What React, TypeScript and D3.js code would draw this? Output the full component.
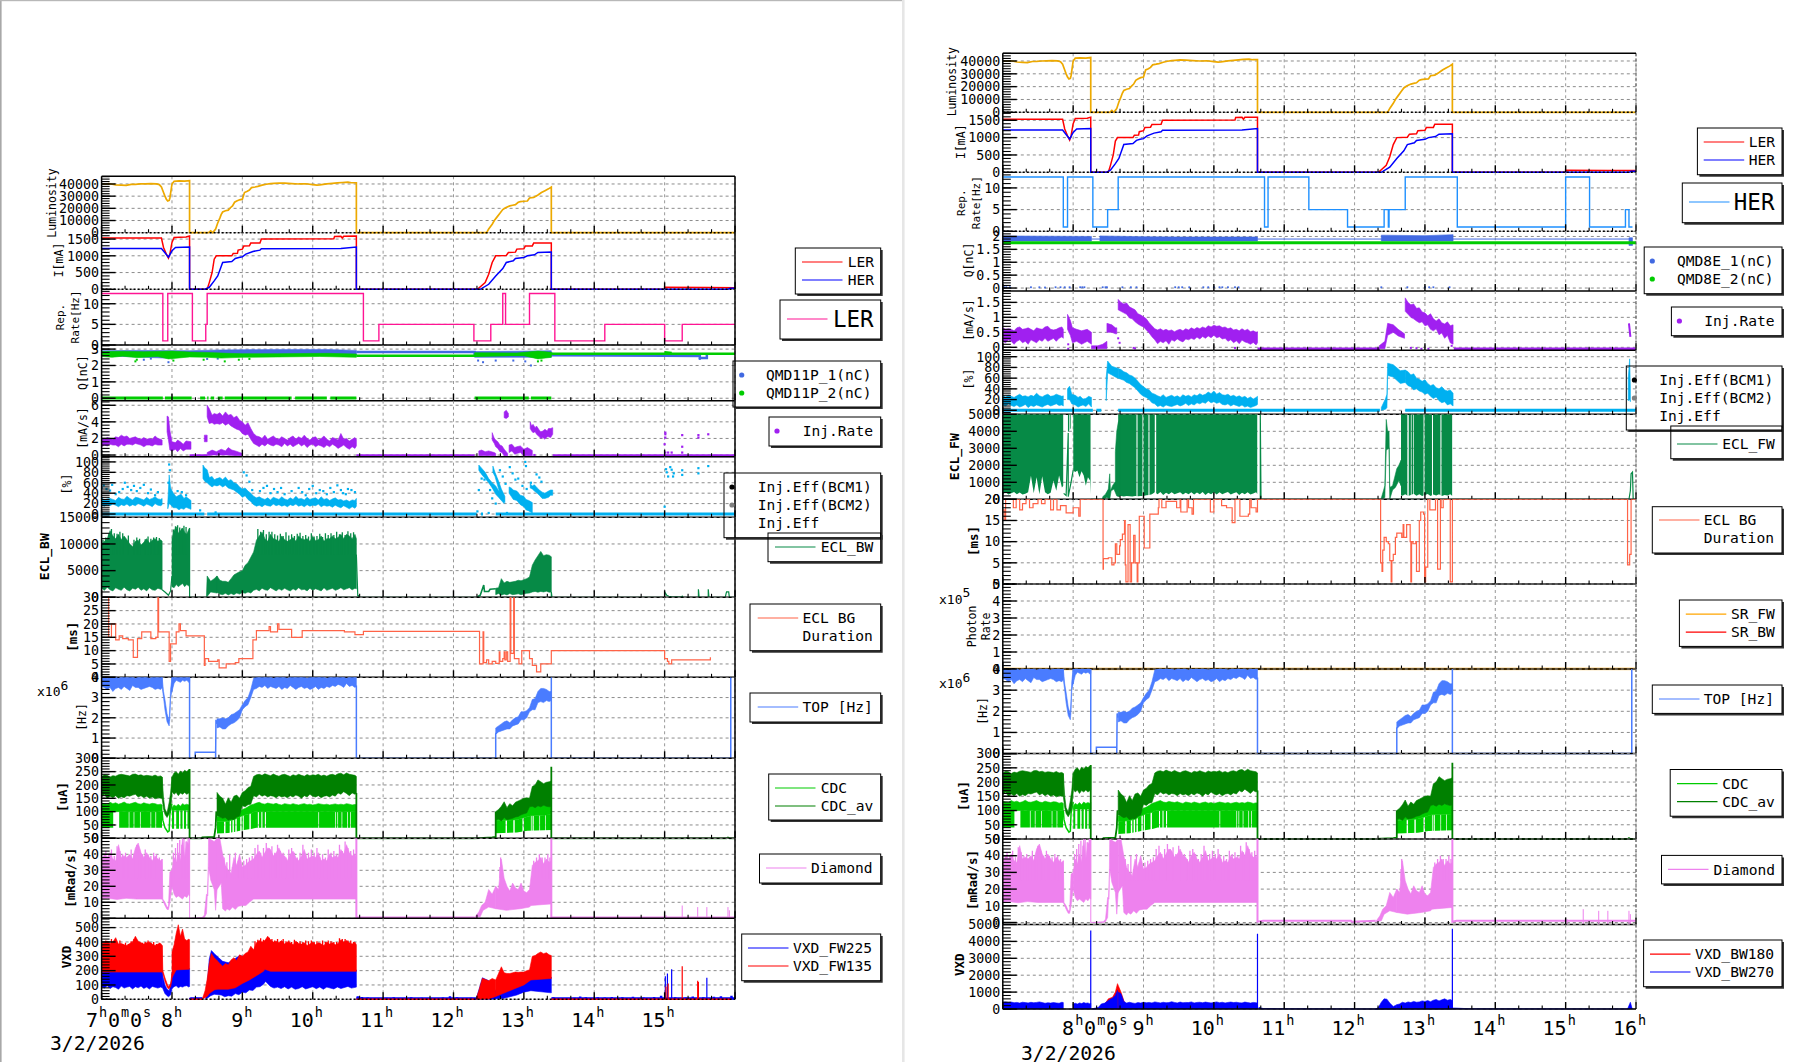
import React from "react";
import * as d3 from "d3";

type P = [number, number];
const zip = (t: number[], v: number[]): P[] => t.map((x, i) => [x, v[i]] as P).filter((p) => p[1] !== undefined);

/* ---------- shared time grids (hours) ---------- */
const T_A1 = [7.0,7.04,7.08,7.12,7.16,7.2,7.24,7.28,7.32,7.36,7.4,7.44,7.48,7.52,7.56,7.6,7.64,7.68,7.72,7.76,7.8,7.84,7.86];
const T_A2 = [8.0,8.03,8.06,8.09,8.12,8.15,8.18,8.21,8.24,8.25];
const T_B = [8.64,8.68,8.72,8.76,8.8,8.84,8.88,8.92,8.96,9.0,9.04,9.08,9.12,9.16,9.2,9.24,9.28,9.32,9.36,9.4,9.44,9.48,9.52,9.56,9.6,9.64,9.68,9.72,9.76,9.8,9.84,9.88,9.92,9.96,10.0,10.04,10.08,10.12,10.16,10.2,10.24,10.28,10.32,10.36,10.4,10.44,10.48,10.52,10.56,10.6,10.62];
const T_C = [12.6,12.64,12.68,12.72,12.76,12.8,12.84,12.88,12.92,12.96,13.0,13.04,13.08,13.12,13.16,13.2,13.24,13.28,13.32,13.36,13.39];
const T_D = [12.72,12.76,12.8,12.84,12.88,12.92,12.96,13.0,13.04,13.08,13.12,13.16,13.2,13.24,13.28,13.32,13.36,13.4];
const HOURS = [7, 8, 9, 10, 11, 12, 13, 14, 15, 16];

/* ---------- Luminosity, currents ---------- */
const LUM: P[] = [[7,40000],[7.05,39800],[7.1,40200],[7.15,39800],[7.2,39200],[7.28,39000],[7.35,38800],[7.42,39600],[7.48,39700],[7.55,40000],[7.62,40100],[7.7,40300],[7.78,40100],[7.82,39500],[7.85,37500],[7.88,33000],[7.9,30000],[7.92,27500],[7.94,26000],[7.96,26500],[7.97,28500],[7.99,36000],[8.0,40000],[8.03,42200],[8.1,42500],[8.18,42300],[8.25,42700],[8.25,0],[8.52,0],[8.55,1500],[8.58,0],[8.6,1500],[8.62,3000],[8.65,8000],[8.68,12000],[8.7,15000],[8.72,17000],[8.76,18000],[8.8,18500],[8.83,20500],[8.86,22000],[8.89,25000],[8.92,26000],[8.96,27000],[9.0,27500],[9.03,33000],[9.07,34000],[9.1,35000],[9.13,37000],[9.18,37500],[9.22,38000],[9.28,39000],[9.34,39800],[9.4,40300],[9.45,40500],[9.52,40800],[9.6,40700],[9.7,40300],[9.8,40000],[9.9,40200],[10.0,39500],[10.06,39100],[10.1,39300],[10.2,40100],[10.28,40500],[10.35,40900],[10.42,41200],[10.5,41500],[10.55,41000],[10.62,41000],[10.62,0],[12.47,0],[12.5,3000],[12.55,7000],[12.58,10000],[12.62,13000],[12.66,16000],[12.7,19000],[12.74,20500],[12.8,22000],[12.84,22500],[12.88,23000],[12.92,25000],[12.95,25500],[13.0,25800],[13.05,26000],[13.08,28500],[13.14,29000],[13.2,31000],[13.25,33000],[13.3,34500],[13.35,36000],[13.39,37500],[13.39,0],[16,0]];
const I_LER: P[] = [[7,1530],[7.85,1530],[7.88,1250],[7.92,1050],[7.95,930],[7.97,1050],[8,1400],[8.03,1550],[8.2,1560],[8.25,1590],[8.25,0],[8.5,0],[8.53,200],[8.57,500],[8.6,900],[8.63,1000],[8.85,1000],[8.87,1070],[8.93,1075],[8.94,1170],[9,1200],[9.02,1290],[9.1,1300],[9.12,1380],[9.25,1385],[9.27,1500],[10.3,1510],[10.31,1580],[10.4,1585],[10.42,1530],[10.44,1585],[10.62,1590],[10.62,0],[12.34,0],[12.45,200],[12.5,450],[12.55,800],[12.6,1000],[12.75,1010],[12.78,1100],[12.88,1110],[12.9,1200],[13,1210],[13.02,1290],[13.12,1295],[13.14,1385],[13.39,1385],[13.39,0],[15,0],[15,60],[15.6,55],[16,50]];
const I_HER: P[] = [[7,1220],[7.85,1220],[7.9,1090],[7.95,960],[8,1150],[8.05,1250],[8.25,1260],[8.25,0],[8.47,0],[8.53,60],[8.6,250],[8.65,400],[8.72,800],[8.85,830],[8.9,920],[8.95,950],[9,970],[9.05,1050],[9.15,1130],[9.25,1170],[9.27,1210],[10.4,1220],[10.62,1260],[10.62,0],[12.38,0],[12.5,150],[12.6,400],[12.7,620],[12.75,800],[12.85,850],[12.88,920],[13,950],[13.05,1000],[13.15,1030],[13.2,1100],[13.39,1110],[13.39,0],[15.9,0],[15.93,30],[16,30]];

/* ---------- repetition rate ---------- */
const REP_LER: P[] = [[7,12.5],[7.87,1],[7.94,12.5],[8.29,1],[8.48,5],[8.5,12.5],[10.72,1],[10.94,5],[12.29,1],[12.53,5],[12.7,12.5],[12.74,5],[13.08,12.5],[13.44,1],[14.15,5],[15,1],[15.25,5],[16,5]];
const REP_HER: P[] = [[7,12.5],[7.86,1],[7.92,12.5],[8.28,1],[8.49,5],[8.64,12.5],[10.72,1],[10.77,12.5],[11.35,5],[11.9,1],[12.42,5],[12.48,1],[12.49,5],[12.72,12.5],[13.46,1],[15,12.5],[15.34,1],[15.85,5],[15.9,1],[15.95,1]];

/* ---------- bunch charge ---------- */
const Q11_BLUE_HI: P[] = [[7,2.9],[7.5,2.92],[8.25,2.9],[8.7,2.95],[9.5,2.98],[10.2,2.98],[10.62,2.92]];
const Q11_BLUE_LO: P[] = [[7,2.6],[7.9,2.45],[8.25,2.6],[10.62,2.62]];
const Q11_BLUE_TAIL: P[] = [[10.62,2.82],[12.3,2.82],[12.3,2.72],[13.39,2.72],[13.39,2.62],[15,2.6],[15.5,2.58],[15.5,2.45],[15.6,2.45],[15.6,2.7]];
const Q11_BLUE_C_HI: P[] = [[12.3,2.85],[12.9,2.87],[13.39,2.9]];
const Q11_BLUE_C_LO: P[] = [[12.3,2.5],[13.39,2.5]];
const Q11_GREEN_HI: P[] = [[7,2.85],[7.3,2.87],[7.6,2.84],[8,2.88],[8.25,2.82],[8.6,2.78],[8.8,2.74],[9,2.72],[9.5,2.72],[10.2,2.74],[10.62,2.7]];
const Q11_GREEN_LO: P[] = [[7,2.55],[7.15,2.5],[7.3,2.57],[7.5,2.48],[7.8,2.55],[7.95,2.4],[8.25,2.52],[8.5,2.5],[8.7,2.45],[9,2.5],[9.5,2.52],[10.1,2.55],[10.62,2.5]];
const Q11_GREEN_C_HI: P[] = [[12.3,2.78],[12.9,2.76],[13.2,2.88],[13.39,2.8]];
const Q11_GREEN_C_LO: P[] = [[12.3,2.6],[13,2.6],[13.2,2.4],[13.39,2.5]];
const Q11_GREEN_TAIL: P[] = [[10.62,2.6],[12.3,2.6],[13.39,2.72],[16,2.72]];
const Q11_GREEN_TAIL_2: P[] = [[15,2.8],[15.1,2.75]];
const Q11_LOW_SEGS: P[] = [[7,7.87],[7.9,8.28],[8.4,8.47],[8.5,8.52],[8.55,8.6],[8.65,8.72],[8.75,9.7],[9.75,10.2],[10.25,10.62],[12.3,13.07],[13.1,13.39]];
const Q11_BLUE_DOTS: P[] = [[7.6,2.35],[7.7,2.42],[7.95,2.2],[8.5,2.4],[8.65,2.42],[12.35,2.3],[12.42,2.2],[12.6,2.3],[12.85,2.3],[13.1,2.0],[13.02,2.25],[15.5,2.4]];
const Q11_GREEN_DOTS: P[] = [[7.48,2.25],[7.5,2.35],[8.02,2.3],[8.45,2.35],[8.75,2.25],[8.95,2.35],[9.1,2.4],[13.2,2.25],[13.25,2.3]];

const Q8_BLUE_HI: P[] = [[7,2.02],[7.6,2.01],[8.26,2.0]];
const Q8_BLUE_LO: P[] = [[7,1.82],[8.26,1.82]];
const Q8_BLUE_HI_2: P[] = [[8.38,2.02],[9,1.99],[9.5,1.98],[10.62,1.98]];
const Q8_BLUE_LO_2: P[] = [[8.38,1.82],[10.62,1.82]];
const Q8_BLUE_HI_3: P[] = [[12.38,2.05],[13,2.03],[13.4,2.07]];
const Q8_BLUE_LO_3: P[] = [[12.38,1.82],[13.4,1.82]];
const Q8_BLUE_HI_4: P[] = [[15.9,1.95],[15.95,1.95]];
const Q8_BLUE_LO_4: P[] = [[15.9,1.65],[15.95,1.65]];
const Q8_BLUE_LINE: P[] = [[8.26,1.9],[8.38,1.9],[10.62,1.9],[12.38,1.9],[13.4,1.9],[15.9,1.9]];
const Q8_GREEN: P[] = [[7,1.76],[16,1.76]];
const Q8_ZERO_DOTS: P[] = [[7.02,0.03],[7.05,0.03],[7.1,0.03],[7.4,0.03],[7.52,0.03],[7.6,0.02],[7.75,0.03],[7.82,0.03],[7.88,0.03],[7.95,0.03],[8.1,0.03],[8.13,0.03],[8.16,0.03],[8.42,0.03],[8.46,0.03],[8.48,0.03],[8.7,0.03],[8.82,0.03],[8.9,0.03],[9.45,0.03],[9.5,0.03],[9.55,0.03],[9.65,0.03],[9.85,0.03],[9.92,0.03],[10,0.03],[10.08,0.03],[10.12,0.03],[10.2,0.03],[10.3,0.03],[10.35,0.03],[12.38,0.03],[12.75,0.03],[13,0.03],[13.06,0.03],[13.12,0.03],[13.35,0.03]];

/* ---------- injection rate, LER ---------- */
const INJL_HI_A1 = [2.0,1.9,2.1,2.0,1.9,2.2,2.1,2.4,2.2,2.3,2.0,2.1,2.2,2.0,1.9,2.1,1.9,2.0,1.9,2.3,2.0,1.9,1.8];
const INJL_LO_A1 = [1.0,1.2,1.1,1.3,1.2,1.2,1.0,1.3,1.1,1.3,1.3,1.2,1.4,1.3,1.2,1.0,1.2,1.2,1.1,1.3,1.2,1.2,1.2];
const INJL_SPIKE_HI: P[] = [[7.93,4.7],[7.95,4.6],[7.97,3],[8,1.6],[8.05,1.5],[8.08,1.8],[8.12,1.6],[8.16,1.3],[8.2,1.7],[8.27,1.6]];
const INJL_SPIKE_LO: P[] = [[7.93,2.8],[7.95,1.8],[7.97,0.6],[8,0.5],[8.05,0.7],[8.08,0.4],[8.12,0.8],[8.16,0.5],[8.2,0.7],[8.27,0.7]];
const INJL_PRE_HI: P[] = [[8.5,6],[8.53,5.6],[8.57,4.8],[8.6,5],[8.64,4.9]];
const INJL_PRE_LO: P[] = [[8.5,4.6],[8.53,3.8],[8.57,3.9],[8.6,3.7],[8.64,3.8]];
const INJL_HI_B = [4.9,5.1,4.7,5.2,4.8,4.9,4.5,4.7,4.2,4.0,3.6,3.9,3.2,2.6,2.3,2.2,2.0,2.4,1.9,2.1,2.3,2.0,1.9,2.2,2.0,1.8,2.1,2.3,1.9,2.2,2.0,2.4,2.0,1.8,2.1,2.2,1.8,2.0,2.3,1.9,1.7,2.1,2.0,1.8,2.6,1.9,2.0,1.7,1.9,2.1,1.9];
const INJL_LO_B = [3.8,3.7,3.9,3.6,3.8,3.5,3.3,3.1,3.0,2.6,2.4,2.5,1.9,1.4,1.2,1.0,1.3,1.1,1.4,1.2,1.1,1.3,1.2,1.0,1.4,1.1,1.3,1.0,1.2,1.4,1.1,1.3,0.9,1.2,1.3,1.0,1.2,1.1,0.9,1.2,1.0,1.3,1.1,0.8,1.0,1.2,0.9,0.7,1.0,0.8,1.1];
const INJL_LOWA_HI: P[] = [[8.5,0.3],[8.57,0.6],[8.63,0.4],[8.7,0.7],[8.76,0.5],[8.8,0.9],[8.85,0.6],[8.9,0.5],[9,0.2]];
const INJL_LOWA_LO: P[] = [[8.5,-0.1],[8.57,0],[8.7,0],[8.8,0],[8.9,-0.1],[9,-0.1]];
const INJL_ISLAND_HI: P[] = [[8.46,2.4],[8.5,2.4]];
const INJL_ISLAND_LO: P[] = [[8.46,1.6],[8.5,1.6]];
const INJL_C1_HI: P[] = [[12.36,0.5],[12.4,0.6],[12.45,0.4],[12.5,0.5],[12.58,0.3],[12.6,0.2]];
const INJL_C1_LO: P[] = [[12.36,-0.1],[12.6,-0.1]];
const INJL_C2_HI: P[] = [[12.55,2.7],[12.58,2.0],[12.6,1.8],[12.63,1.6],[12.66,1.2],[12.69,1.1],[12.72,0.7],[12.77,0.2]];
const INJL_C2_LO: P[] = [[12.55,1.8],[12.58,1.4],[12.6,1.0],[12.63,0.8],[12.66,0.4],[12.69,0.3],[12.72,-0.1],[12.77,-0.1]];
const INJL_C3_HI: P[] = [[12.79,1.2],[12.83,1.3],[12.87,0.9],[12.9,1.0],[12.95,1.1],[13,0.7],[13.05,0.9],[13.12,0.55]];
const INJL_C3_LO: P[] = [[12.79,0.3],[12.83,0.5],[12.87,0.1],[12.9,0.2],[12.95,0.3],[13,-0.1],[13.12,-0.1]];
const INJL_C4_HI: P[] = [[12.72,5.2],[12.75,5.4],[12.78,5]];
const INJL_C4_LO: P[] = [[12.72,4.5],[12.75,4.4],[12.78,4.6]];
const INJL_C5_HI: P[] = [[13.09,4],[13.11,3.5],[13.13,3.7],[13.16,3.3],[13.18,3.5],[13.22,3.0],[13.24,2.8],[13.27,2.9],[13.3,3.1],[13.33,2.9],[13.35,3.2],[13.38,3.2],[13.41,3.3]];
const INJL_C5_LO: P[] = [[13.09,3.2],[13.11,2.9],[13.13,2.7],[13.16,2.8],[13.18,2.5],[13.22,2.2],[13.24,2.0],[13.27,2.1],[13.3,1.9],[13.33,2.2],[13.35,2.2],[13.38,2.1],[13.41,2.5]];
const INJL_ZERO_SEGS: P[] = [[8.25,8.5],[10.62,12.3],[13.41,16]];
const INJL_DOTS: P[] = [[15.01,2.7],[15.01,2.5],[15.01,2.1],[15,1.3],[15.01,0.3],[15.05,0.3],[15.1,0.3],[15.25,2.4],[15.25,1],[15.25,0.3],[15.48,2.4],[15.48,2.1],[15.62,2.5],[13.01,-0.1],[13.15,0.0],[15.75,-0.1]];

/* ---------- injection efficiency, LER ---------- */
const EFFL_HI_A1 = [31,27,29,30,28,26,32,29,28,34,30,27,32,31,29,27,32,28,30,33,29,28,30];
const EFFL_LO_A1 = [17,15,18,16,19,17,14,18,16,19,15,18,16,20,18,15,19,17,14,20,17,16,18];
const EFFL_SPIKE_HI: P[] = [[7.94,20],[7.96,75],[7.98,50],[8.02,40],[8.06,33],[8.1,36],[8.13,38],[8.17,30],[8.2,33],[8.27,26]];
const EFFL_SPIKE_LO: P[] = [[7.94,10],[7.96,20],[7.98,18],[8.02,12],[8.06,12],[8.1,8],[8.13,11],[8.17,9],[8.2,13],[8.27,9]];
const EFFL_PRE_HI: P[] = [[8.44,94],[8.47,88],[8.5,85],[8.53,70],[8.57,72],[8.6,66],[8.64,68]];
const EFFL_PRE_LO: P[] = [[8.44,68],[8.47,62],[8.5,60],[8.53,56],[8.57,52],[8.6,55],[8.64,54]];
const EFFL_HI_B = [68,70,66,71,64,66,60,58,52,48,50,44,40,34,31,33,30,28,31,27,32,30,28,33,29,27,31,28,34,29,30,27,32,28,30,31,27,33,28,30,26,29,31,27,28,25,27,24,27,26,30];
const EFFL_LO_B = [54,56,52,55,50,48,46,42,38,32,35,28,24,18,15,17,14,18,16,15,19,16,18,15,17,14,18,16,19,15,17,14,18,15,17,16,19,14,17,15,16,13,17,14,12,16,13,10,14,11,15];
const EFFL_C1_HI: P[] = [[12.36,94],[12.4,88],[12.45,80],[12.5,68],[12.55,60],[12.6,54],[12.64,45],[12.68,40],[12.72,32]];
const EFFL_C1_LO: P[] = [[12.36,84],[12.4,76],[12.45,68],[12.5,60],[12.55,50],[12.6,38],[12.64,32],[12.68,26],[12.72,20]];
const EFFL_C2_HI: P[] = [[12.56,92],[12.59,80],[12.62,70],[12.65,60],[12.68,48],[12.73,34]];
const EFFL_C2_LO: P[] = [[12.56,80],[12.59,72],[12.62,58],[12.65,44],[12.68,34],[12.73,22]];
const EFFL_C3_HI: P[] = [[12.79,52],[12.82,50],[12.85,46],[12.9,44],[12.95,36],[13,34],[13.03,28],[13.07,26],[13.12,22]];
const EFFL_C3_LO: P[] = [[12.79,40],[12.82,34],[12.85,28],[12.9,26],[12.95,18],[13,14],[13.03,8],[13.07,6],[13.12,2]];
const EFFL_C4_HI: P[] = [[13.09,58],[13.12,54],[13.15,56],[13.19,50],[13.22,46],[13.26,42],[13.3,40],[13.35,44],[13.38,46],[13.41,46]];
const EFFL_C4_LO: P[] = [[13.09,50],[13.12,48],[13.15,44],[13.19,40],[13.22,36],[13.26,30],[13.3,30],[13.35,32],[13.38,36],[13.41,36]];
const EFFL_ZERO_SEGS: P[] = [[7,8.46],[8.5,12.33],[12.39,12.42],[12.6,16]];
const EFFL_DOTS: P[] = [[7.0,50],[7.03,55],[7.07,48],[7.12,45],[7.15,56],[7.2,38],[7.25,42],[7.3,48],[7.33,60],[7.37,52],[7.42,46],[7.46,54],[7.5,44],[7.55,50],[7.6,56],[7.66,40],[7.7,47],[7.76,36],[7.8,42],[7.95,60],[7.96,95],[7.97,84],[8.08,44],[8.14,42],[8.2,36],[8.4,7],[8.62,3],[9.02,80],[9.06,74],[9.1,62],[9.14,46],[9.25,44],[9.3,50],[9.35,54],[9.4,40],[9.45,48],[9.5,42],[9.55,50],[9.6,38],[9.7,44],[9.8,50],[9.85,42],[9.9,36],[9.95,48],[10,54],[10.05,40],[10.1,46],[10.15,44],[10.2,38],[10.25,50],[10.3,42],[10.35,55],[10.4,46],[10.43,40],[10.47,38],[10.5,48],[10.55,46],[10.6,42],[12.36,46],[12.4,68],[12.44,66],[12.52,46],[12.55,30],[12.6,20],[12.62,42],[12.66,84],[12.7,72],[12.74,58],[12.8,90],[12.84,78],[12.88,66],[12.92,68],[12.98,54],[13.04,48],[13.1,60],[13.18,76],[13.22,70],[13.25,62],[13.02,100],[13.03,92],[15.02,86],[15.03,80],[15.05,72],[15.08,90],[15.1,85],[15.12,72],[15.13,78],[15.25,84],[15.25,75],[15.48,88],[15.48,78],[15.62,92],[15,14],[12.34,5],[12.5,2],[12.76,2]];

/* ---------- ECL_BW ---------- */
const ECLBW_HI_A1 = [10000,10500,11000,12500,11500,11000,11800,10800,11500,10800,10000,9500,10500,10700,9800,10300,11000,10200,10700,11000,10500,10800,10500];
const ECLBW_LO_A1 = [1700,1300,1900,1400,1200,1800,1500,1300,1900,1400,1200,1700,1500,1900,1300,1600,1200,1800,1400,1300,1700,1500,1400];
const ECLBW_PEAKS_UP: P[] = [[7.02,10800],[7.06,11200],[7.1,11800],[7.14,12800],[7.18,12000],[7.22,11900],[7.26,12300],[7.3,12000],[7.38,11600],[7.46,10800],[7.5,11200],[7.54,11000],[7.62,10900],[7.66,11400],[7.7,11000],[7.74,11200],[7.78,11300],[7.82,11100],[8.02,12700],[8.05,13300],[8.08,13500],[8.11,13100],[8.14,12900],[8.17,13400],[8.2,13200],[9.22,12800],[9.26,12300],[9.3,12600],[9.34,11800],[9.38,12300],[9.42,12300],[9.46,11800],[9.5,11600],[9.54,11900],[9.58,11500],[9.62,12200],[9.66,11600],[9.7,11800],[9.74,11500],[9.78,11900],[9.82,12100],[9.86,11500],[9.9,11700],[9.94,11400],[9.98,12000],[10.02,11400],[10.06,11500],[10.1,11900],[10.14,11300],[10.18,12000],[10.22,11700],[10.26,12000],[10.3,11700],[10.34,12300],[10.38,11800],[10.42,12200],[10.46,11700],[10.5,12400],[10.54,12000],[10.58,12200]];
const ECLBW_HI_A2 = [11000,12500,13200,12000,12500,13000,12200,11800,12800,13000];
const ECLBW_LO_A2 = [2000,1800,2400,2000,2300,2600,2000,2400,2100,2200];
const ECLBW_DIP: P[] = [[7.86,1400],[7.9,1000],[7.95,400],[7.98,1200],[8,4000]];
const ECLBW_HI_B = [4000,3200,3000,3000,2800,3500,4200,4500,4800,5000,6000,6500,7500,8500,10700,11500,12200,11000,10500,11800,11000,10800,10500,11500,10800,10500,10800,11200,10500,11500,11000,10800,11000,10500,11400,10600,10800,11500,10500,11000,11000,11500,11000,11200,11800,11000,11800,11500,11000,11800,11000];
const ECLBW_LO_B = [900,600,500,750,450,700,500,800,600,900,750,1000,800,1300,1500,1200,1700,1400,1300,1800,1500,1200,1600,1300,1700,1400,1200,1600,1300,1800,1400,1500,1200,1700,1300,1600,1400,1200,1800,1300,1500,1700,1300,1500,1800,1400,1600,1800,1400,1700,1600];
const ECLBW_PRE_HI: P[] = [[8.49,300],[8.5,4000],[8.55,3000],[8.6,3500],[8.64,4000]];
const ECLBW_PRE_LO: P[] = [[8.49,0],[8.55,1000],[8.64,800]];
const ECLBW_HI_C = [1700,1800,3500,2700,3000,2800,2900,3000,3200,3100,3300,3500,3800,6000,7000,7800,8600,7800,8000,7900,7600];
const ECLBW_LO_C = [500,700,400,600,450,700,500,550,650,500,600,750,800,1000,1100,950,1100,1000,1150,950,1000];
const ECLBW_PRE_C: P[] = [[12.34,100],[12.38,400],[12.43,2300],[12.44,1100],[12.5,1100],[12.52,1500],[12.6,1600]];
const ECLBW_LINE: P[] = [[8.25,13000],[8.25,0],[10.62,0],[10.66,0],[12.34,0],[13.39,0],[13.39,1000],[13.4,0],[15,0],[15,1000],[15.03,400],[15.06,200],[15.1,100],[15.25,100],[15.25,300],[15.26,0],[15.48,0],[15.48,1500],[15.49,0],[15.62,0],[15.62,1500],[15.63,0],[15.86,0],[15.88,1000],[15.91,1000],[15.92,0],[16,0]];
const ECLBW_TAIL: P[] = [[10.62,8000],[10.64,300],[10.65,300],[10.66,0]];

/* ---------- ECL_FW ---------- */
const ECLFW_LO_A1 = [300,420,280,350,430,300,400,280,330,410,1380,360,1300,300,1350,420,300,380,1100,500,1400,700,800];
const ECLFW_LO_A2 = [1700,1600,1700,1300,1650,1400,800,1300,1100,300];
const ECLFW_LO_B = [180,190,170,200,180,170,190,180,200,190,240,260,300,420,300,430,260,380,300,420,290,360,420,280,390,300,420,280,400,300,430,260,380,300,420,280,410,300,370,430,280,350,420,260,390,300,420,280,340,420,300];
const ECLFW_LO_C = [180,260,210,300,190,250,320,210,290,200,260,310,200,280,230,300,190,260,230,300,200];
const ECLFW_SOLID: P[] = [[7,7.865],[7.925,7.945],[7.96,7.975],[8,8.25],[8.285,8.295],[8.62,8.9],[8.915,8.985],[9.0,9.07],[9.085,9.16],[9.18,10.62],[10.655,10.665],[12.66,12.75],[12.77,12.8],[12.81,12.83],[12.84,12.98],[12.995,13.1],[13.115,13.22],[13.235,13.39]];
const ECLFW_RISE_HI: P[] = [[8.42,150],[8.46,300],[8.5,600],[8.52,1500],[8.53,500],[8.56,800],[8.6,1050],[8.6,2800],[8.62,4000],[8.64,4500],[8.66,4700]];
const ECLFW_RISE_LO: P[] = [[8.42,0],[8.48,100],[8.52,0],[8.54,500],[8.58,600],[8.62,200],[8.66,150]];
const ECLFW_DIP: P[] = [[7.865,350],[7.9,220],[7.93,3900],[7.93,150],[7.97,1000],[8,1700]];
const ECLFW_C_HI: P[] = [[12.38,80],[12.41,500],[12.43,800],[12.45,4700],[12.47,4000],[12.49,4000],[12.5,700],[12.54,800],[12.57,1300],[12.6,1800],[12.63,2000],[12.66,2300]];
const ECLFW_C_LO: P[] = [[12.38,0],[12.43,100],[12.45,2900],[12.49,3000],[12.5,0],[12.54,550],[12.58,700],[12.63,1100],[12.66,800]];
const ECLFW_TAIL: P[] = [[13.39,0],[15.9,0],[15.92,500],[15.93,1500],[15.95,1600],[15.96,0],[16,0]];
const ECLFW_END: P[] = [[8.25,0],[8.285,0],[10.62,0],[10.66,0],[10.66,5000],[10.67,0],[13.39,0]];
const ECLFW_TOP_A: P[] = [[7.92,5000],[7.97,5000]];
const ECLFW_TOP_B: P[] = [[7.92,3900],[7.97,4200]];

/* ---------- ECL BG duration ---------- */
const BG_BW: P[] = [[7.1,30],[7.1,15],[7.14,20],[7.2,14],[7.25,15.5],[7.3,14.5],[7.38,14],[7.45,7.5],[7.51,14.5],[7.57,17],[7.7,14.5],[7.77,15],[7.8,30],[7.81,17],[7.95,17],[7.96,6],[7.98,12.5],[8.06,17],[8.1,20],[8.12,17.5],[8.2,15.5],[8.45,15.5],[8.46,4.5],[8.47,7],[8.52,6],[8.65,6.5],[8.67,3.5],[8.77,5],[8.9,5.5],[8.95,7],[9.15,14],[9.2,17.5],[9.38,19],[9.4,17],[9.5,20],[9.52,18],[9.7,15],[9.85,17.5],[10.45,17],[10.6,16],[10.72,17.2],[12.36,17.2],[12.37,5],[12.42,17],[12.43,5.5],[12.47,6.5],[12.5,5],[12.55,6],[12.6,5.2],[12.65,9.5],[12.66,6],[12.7,7],[12.72,9.5],[12.73,6.5],[12.75,9.5],[12.77,6],[12.805,30],[12.815,9],[12.855,30],[12.865,7],[12.93,5],[12.97,10],[13.05,10],[13.08,7],[13.12,4.5],[13.18,2],[13.24,5],[13.38,5],[13.39,10],[15,10],[15,7],[15.04,6],[15.06,5],[15.1,6.5],[15.63,6.5],[15.65,7.5]];
const BG_FW: P[] = [[7,17.5],[7.02,15],[7.04,20],[7.15,18],[7.19,20],[7.24,17.5],[7.28,19],[7.33,20],[7.38,18],[7.43,19],[7.5,20],[7.55,19],[7.6,20],[7.68,17.5],[7.72,20],[7.77,17.5],[7.82,18.5],[7.9,16.8],[8,18],[8.08,16],[8.1,20],[8.42,20],[8.425,3.5],[8.43,6],[8.5,6.2],[8.55,4.5],[8.58,5],[8.6,9.5],[8.62,7],[8.66,9],[8.67,10.5],[8.7,11.8],[8.73,15],[8.74,4.5],[8.75,0.5],[8.78,14],[8.81,0.5],[8.83,5],[8.86,11.5],[8.88,5],[8.91,0.5],[8.92,5],[8.94,16],[9.01,8.5],[9.09,16.5],[9.21,18],[9.22,20],[9.26,18],[9.32,19.5],[9.47,18],[9.52,20],[9.53,17],[9.62,20],[9.64,18],[9.69,16.5],[9.71,20],[9.95,17],[10,20],[10.11,18.5],[10.18,18],[10.26,14.5],[10.3,20],[10.37,16],[10.49,16.5],[10.51,20],[10.53,18],[10.6,17],[10.62,20],[12.365,20],[12.37,5],[12.39,3],[12.4,8],[12.42,11],[12.45,10],[12.48,9.5],[12.5,5.5],[12.52,0.5],[12.53,5.5],[12.55,7],[12.58,11],[12.6,12],[12.65,12],[12.67,11],[12.69,14],[12.7,11],[12.74,14],[12.79,10],[12.8,0.5],[12.81,10],[12.83,9.5],[12.87,10],[12.88,3],[12.92,15],[12.94,17],[12.98,16.5],[12.995,0.5],[13.01,4],[13.04,20],[13.07,17.5],[13.15,20],[13.18,3.5],[13.22,20],[13.23,18],[13.26,20],[13.36,0.5],[13.39,20],[15.87,20],[15.88,4.5],[15.91,7],[15.93,20],[16,20]];

/* ---------- TOP ---------- */
const TOP_LO_A1 = [3.55,3.5,3.4,3.5,3.3,3.45,3.5,3.4,3.55,3.45,3.35,3.6,3.5,3.5,3.4,3.45,3.5,3.55,3.5,3.4,3.45,3.4,3.5];
const TOP_HI_A1 = [4,4,3.95,4,4,4,3.95,4,4,4,4,4,3.95,4,4,4,4,3.95,4,4,4,4,4];
const TOP_LO_A2 = [3.3,3.7,3.85,3.8,3.75,3.85,3.8,3.85,3.75,3.8];
const TOP_DIP_HI: P[] = [[7.86,4],[7.88,3.3],[7.9,2.9],[7.93,2.2],[7.96,1.85],[7.97,2.6],[7.98,3.4],[8,4]];
const TOP_DIP_LO: P[] = [[7.86,3.5],[7.88,3.0],[7.9,2.4],[7.93,1.8],[7.96,1.6],[7.97,2.0],[7.98,3],[8,3.3]];
const TOP_HI_B = [1.95,1.95,2,1.95,2,2.15,2.2,2.3,2.4,2.65,2.85,3,3.4,3.95,4,4,4,4,4,4,3.95,4,4,4,4,3.95,4,4,4,4,4,4,3.95,4,4,4,4,4,4,3.95,4,4,4,4,4,4,3.95,4,4,4,4];
const TOP_LO_B = [1.5,1.55,1.45,1.45,1.6,1.7,1.75,1.85,2,2.4,2.55,2.65,3,3.4,3.45,3.55,3.5,3.6,3.45,3.55,3.5,3.45,3.55,3.4,3.5,3.45,3.6,3.5,3.4,3.5,3.55,3.45,3.5,3.4,3.45,3.55,3.4,3.5,3.45,3.55,3.5,3.6,3.55,3.65,3.6,3.5,3.7,3.55,3.6,3.5,3.55];
const TOP_HI_C = [1.5,1.6,1.7,1.8,1.85,1.75,1.9,2,2.05,2.3,2.3,2.35,2.5,2.9,2.95,3.3,3.45,3.45,3.4,3.3,3.3];
const TOP_LO_C = [1.2,1.3,1.35,1.4,1.45,1.45,1.6,1.65,1.7,1.9,1.9,2,2.3,2.4,2.4,2.75,2.8,2.75,2.85,2.8,2.85];
const TOP_LINE: P[] = [[8.25,4],[8.25,0],[8.33,0],[8.33,0.3],[8.62,0.3],[8.62,0],[8.625,1.9],[8.64,1.7]];
const TOP_END: P[] = [[10.62,3.6],[10.62,0],[12.6,0],[12.6,1.2],[12.62,1.3]];
const TOP_TAIL: P[] = [[13.39,4],[13.39,0],[15.94,0],[15.94,4]];

/* ---------- CDC ---------- */
const CDCAV_HI_A1 = [232,238,236,230,235,233,238,240,238,236,234,240,241,236,238,234,236,235,233,237,232,234,230];
const CDCAV_LO_A1 = [155,165,150,158,152,160,150,156,152,160,158,162,165,155,160,152,158,150,155,148,152,150,150];
const CDCAV_DIP_HI: P[] = [[7.86,230],[7.88,150],[7.9,110],[7.93,95],[7.96,135],[7.98,170],[8,230]];
const CDCAV_DIP_LO: P[] = [[7.86,150],[7.88,110],[7.9,90],[7.93,78],[7.96,92],[7.98,110],[8,160]];
const CDCAV_HI_A2 = [230,245,250,240,252,246,255,250,258,256];
const CDCAV_LO_A2 = [175,165,172,160,170,165,172,165,170,172];
const CDCAV_HI_B = [172,158,150,128,152,135,158,162,150,172,178,190,195,232,238,240,236,242,238,235,241,236,233,238,240,236,232,238,235,240,236,233,239,235,238,236,240,234,237,233,238,240,236,242,244,238,245,240,238,236,232];
const CDCAV_LO_B = [85,80,75,78,68,72,70,80,84,122,118,126,128,160,155,165,158,162,155,160,158,152,160,155,158,152,160,155,162,158,150,160,155,165,158,155,160,152,158,160,155,162,158,170,165,175,168,160,170,165,168];
const CDCAV_HI_C = [100,108,120,137,115,130,122,135,140,145,150,152,150,194,200,219,212,205,210,212,215];
const CDCAV_LO_C = [70,72,65,78,70,72,75,80,82,88,92,95,118,120,115,122,118,124,120,118,120];
const CDC_HI_A1 = [132,130,128,135,130,133,128,131,136,130,129,132,135,130,128,133,130,128,131,130,126,128,125];
const CDC_MID_A1: P[] = [[7,100],[7.86,100]];
const CDC_LOW_A1: P[] = [[7,40],[7.86,40]];
const CDC_HI_A2 = [115,125,120,128,120,130,125,128,125,130];
const CDC_MID_A2: P[] = [[8,105],[8.25,105]];
const CDC_LOW_A2: P[] = [[8,36],[8.25,36]];
const CDC_DIP: P[] = [[7.86,100],[7.87,68],[7.9,40],[7.94,24],[7.96,28],[7.97,90],[8,130]];
const CDC_HI_B = [82,80,78,80,82,85,88,95,100,108,112,118,125,128,132,135,130,128,132,130,128,131,127,125,130,128,126,130,127,125,128,130,126,128,125,127,130,128,126,128,125,127,129,126,128,126,130,128,125,127,126];
const CDC_MID_B: P[] = [[8.64,62],[8.8,64],[8.9,72],[9,85],[9.14,95],[9.16,100],[10.62,100]];
const CDC_LOW_B: P[] = [[8.64,18],[8.8,20],[8.9,25],[9,30],[9.14,36],[9.2,40],[10.62,40]];
const CDC_HI_C = [85,100,98,96,94,94,95,98,105,119,119,120,122,125,125,125,124,125,122,125,125];
const CDC_MID_C: P[] = [[12.6,65],[12.9,70],[13.1,85],[13.39,88]];
const CDC_LOW_C: P[] = [[12.6,19],[12.9,22],[13.05,28],[13.39,31]];
const CDC_COMB_SOLID: P[] = [[7,7.165],[7.25,7.385],[7.395,7.455],[7.465,7.545],[7.555,7.695],[7.705,7.765],[7.775,7.86],[8,8.03],[8.06,8.1],[8.12,8.15],[8.17,8.2],[8.22,8.25],[8.64,8.74],[8.76,8.82],[8.84,8.86],[8.88,8.9],[8.92,8.97],[8.99,9.0],[9.02,9.1],[9.12,9.22],[9.235,9.27],[9.285,9.32],[9.335,10.08],[10.09,10.32],[10.33,10.35],[10.36,10.41],[10.42,10.49],[10.5,10.53],[10.54,10.62],[12.6,12.74],[12.76,12.85],[12.87,12.98],[13,13.1],[13.11,13.12],[13.14,13.22],[13.23,13.3],[13.31,13.39]];
const CDC_LINE: P[] = [[8.25,260],[8.25,0],[8.42,0],[8.43,3],[8.6,5],[8.62,40],[8.63,100]];
const CDC_ZERO: P[] = [[10.62,170],[10.62,0],[12.3,0],[12.55,3],[12.6,5],[12.6,100]];
const CDC_ZERO_2: P[] = [[13.39,268],[13.39,0],[15.3,0],[15.32,2],[15.33,0],[15.88,0],[15.9,3],[15.92,0],[16,0]];

/* ---------- Diamond ---------- */
const DIA_HI_A1 = [36,40,38,41,37,36,46,38,39,38,40,37,44,47,41,38,41,38,36,39,37,36,37];
const DIA_LO_A1: P[] = [[7,12],[7.08,12.5],[7.22,11.8],[7.35,12.5],[7.5,12],[7.7,12],[7.86,12]];
const DIA_PEAKS: P[] = [[7.02,38],[7.06,42],[7.1,40],[7.14,43],[7.18,39],[7.22,45],[7.26,42],[7.3,40],[7.34,41],[7.38,39],[7.42,43],[7.46,40],[7.5,46],[7.54,43],[7.58,40],[7.62,43],[7.66,40],[7.7,39],[7.74,41],[7.78,40],[7.82,38],[8.02,41],[8.05,44],[8.08,47],[8.11,49],[8.14,46],[8.17,50],[8.2,48],[8.23,50],[8.74,38],[8.78,35],[8.82,40],[8.86,32],[8.9,41],[8.94,36],[8.98,34],[9.02,36],[9.06,37],[9.1,38],[9.14,39],[9.18,44],[9.22,46],[9.26,41],[9.3,44],[9.34,47],[9.38,44],[9.42,45],[9.46,41],[9.5,46],[9.54,42],[9.58,41],[9.62,38],[9.66,43],[9.7,44],[9.74,41],[9.78,38],[9.82,41],[9.86,46],[9.9,40],[9.94,41],[9.98,43],[10.02,41],[10.06,44],[10.1,38],[10.14,40],[10.18,38],[10.22,43],[10.26,41],[10.3,42],[10.34,40],[10.38,46],[10.42,42],[10.46,48],[10.5,44],[10.54,42],[10.58,43],[12.66,32],[12.67,38],[13.14,36],[13.18,38],[13.22,40],[13.26,38],[13.3,38],[13.34,40],[13.37,38]];
const DIA_PEAK_BASE = 25;
const DIA_DIP_HI: P[] = [[7.86,37],[7.87,12],[7.9,10],[7.93,7],[7.95,7],[7.97,29],[8,30]];
const DIA_DIP_LO: P[] = [[7.86,12],[7.87,11],[7.9,8],[7.93,5.5],[7.95,5.5],[7.97,10],[8,20]];
const DIA_HI_A2 = [30,38,35,41,36,50,38,48,46,50];
const DIA_LO_A2 = [20,15,13,14,13,12,14,13,15,14];
const DIA_HI_B = [50,50,40,33,30,28,38,33,40,32,33,35,36,37,40,42,38,41,44,43,39,41,44,40,39,36,40,42,38,36,39,43,37,38,39,38,41,36,37,36,40,38,39,38,43,40,46,41,39,40,38];
const DIA_LO_B: P[] = [[8.64,18],[8.7,22],[8.72,6],[8.76,4.5],[8.78,6],[8.82,5],[8.86,7],[8.9,5.5],[8.94,7.5],[9,8],[9.05,8],[9.1,10],[9.16,12],[9.4,12],[10.62,12]];
const DIA_PRE_HI: P[] = [[8.25,50],[8.25,0],[8.43,0.5],[8.46,2],[8.49,15],[8.51,14],[8.52,50],[8.6,48],[8.64,50]];
const DIA_PRE_LO: P[] = [[8.25,0],[8.43,0],[8.46,0.5],[8.49,3],[8.52,32],[8.55,24],[8.6,18],[8.62,5],[8.64,18]];
const DIA_HI_C = [20,18,37,25,20,17,22,19,18,22,17,16,18,33,35,36,38,34,37,35,36];
const DIA_LO_C: P[] = [[12.6,6],[12.75,5],[12.95,6],[13.08,7],[13.1,8],[13.39,9]];
const DIA_PRE_C_HI: P[] = [[12.3,0.5],[12.36,4],[12.4,8],[12.45,10],[12.5,18],[12.55,15],[12.6,20]];
const DIA_PRE_C_LO: P[] = [[12.3,0.5],[12.38,1],[12.42,5],[12.5,7],[12.6,6]];
const DIA_END: P[] = [[10.62,50],[10.62,0.5],[12.3,0.5]];
const DIA_END_2: P[] = [[13.39,50],[13.39,0.5],[16,0.5]];
const DIA_END_R: P[] = [[10.62,50],[10.62,0.5],[10.7,1],[11.95,1],[11.96,0.5],[12.3,1]];
const DIA_END_R2: P[] = [[13.39,50],[13.39,0.5],[13.45,1],[16,1]];
const DIA_SPIKES: P[] = [[15.02,2],[15.25,8],[15.47,7],[15.6,7],[15.9,7],[15.92,5]];

/* ---------- VXD FW ---------- */
const VXDR_HI_A1 = [385,395,405,390,400,430,385,390,380,375,390,400,440,405,395,385,395,400,385,375,385,390,375];
const VXDR_LO_A1: P[] = [[7,190],[7.86,190]];
const VXDR_DIP_HI: P[] = [[7.86,375],[7.87,200],[7.9,150],[7.93,110],[7.95,85],[7.98,110],[8,180]];
const VXDR_DIP_LO: P[] = [[7.86,190],[7.87,180],[7.9,125],[7.93,85],[7.95,72],[7.98,85],[8,135]];
const VXDR_HI_A2 = [330,380,460,520,440,490,420,410,420,415];
const VXDR_LO_A2: P[] = [[8,150],[8.06,205],[8.25,210]];
const VXDR_PRE_HI: P[] = [[8.43,0],[8.47,60],[8.5,140],[8.53,250],[8.56,320],[8.6,290],[8.64,270]];
const VXDR_PRE_LO: P[] = [[8.43,0],[8.5,20],[8.53,40],[8.6,65],[8.64,70]];
const VXDR_HI_B = [270,250,230,250,240,275,290,270,310,300,320,330,370,345,395,410,400,410,440,415,400,405,395,410,385,400,395,380,405,390,385,395,375,385,400,380,395,385,375,400,385,395,380,390,415,400,410,395,385,400,380];
const VXDR_PEAKS: P[] = [[7.02,395],[7.06,410],[7.1,385],[7.14,420],[7.18,400],[7.22,395],[7.26,410],[7.3,385],[7.34,395],[7.38,385],[7.42,405],[7.46,420],[7.5,410],[7.54,400],[7.58,395],[7.62,400],[7.66,410],[7.7,395],[7.74,400],[7.78,385],[7.82,395],[9.18,405],[9.22,415],[9.26,425],[9.3,415],[9.38,430],[9.42,420],[9.46,410],[9.5,420],[9.54,405],[9.58,420],[9.62,405],[9.66,410],[9.7,400],[9.74,415],[9.78,400],[9.82,405],[9.86,400],[9.9,410],[9.94,405],[9.98,410],[10.02,400],[10.06,405],[10.1,395],[10.14,410],[10.18,400],[10.22,410],[10.26,405],[10.3,400],[10.34,400],[10.38,425],[10.42,420],[10.46,420],[10.5,410],[10.54,410],[10.58,400]];
const VXDR_PEAK_BASE = 300;
const VXDR_LO_B: P[] = [[8.64,70],[8.8,70],[8.9,80],[9,110],[9.1,135],[9.2,165],[9.3,195],[9.32,210],[9.4,195],[10.62,195]];
const VXDR_HI_C = [135,180,227,185,180,180,185,190,188,190,190,200,205,300,305,320,330,318,325,310,305];
const VXDR_LO_C: P[] = [[12.6,20],[12.7,40],[12.85,70],[13,100],[13.1,135],[13.39,145]];
const VXDR_PRE_C_HI: P[] = [[12.32,0],[12.36,60],[12.41,146],[12.5,130],[12.55,145],[12.6,135]];
const VXDR_PRE_C_LO: P[] = [[12.32,0],[12.5,2],[12.6,20]];
const VXDB_HI_A1: P[] = [[7,198],[7.5,198],[7.86,198]];
const VXDB_LO_A1 = [88,78,95,75,88,82,70,92,78,85,90,72,88,80,92,76,85,72,90,84,78,86,82];
const VXDB_DIP_HI: P[] = [[7.86,198],[7.87,160],[7.9,100],[7.93,70],[7.96,60],[8,140]];
const VXDB_DIP_LO: P[] = [[7.86,82],[7.87,75],[7.9,40],[7.93,25],[7.95,18],[7.98,30],[8,75]];
const VXDB_HI_A2: P[] = [[8,190],[8.06,210],[8.25,215]];
const VXDB_LO_A2 = [75,88,95,80,90,85,92,95,85,90];
const VXDB_HI_B: P[] = [[8.48,5],[8.5,100],[8.53,280],[8.56,340],[8.6,320],[8.64,300],[8.72,265],[8.8,255],[8.9,285],[8.96,305],[9,300],[9.1,210],[9.2,180],[9.32,215],[9.4,200],[10.62,205]];
const VXDB_LO_B: P[] = [[8.48,0],[8.55,25],[8.6,35],[8.7,30],[8.75,18],[8.8,25],[8.85,22],[8.9,40],[8.95,32],[9,50],[9.05,45],[9.1,65],[9.15,62],[9.2,85],[9.25,88],[9.3,105],[9.33,125],[9.4,90],[9.45,78],[9.5,85],[9.55,75],[9.6,88],[9.65,72],[9.7,85],[9.75,70],[9.8,75],[9.85,88],[9.9,72],[10,88],[10.05,74],[10.1,86],[10.15,70],[10.2,85],[10.3,72],[10.35,86],[10.4,75],[10.5,90],[10.55,78],[10.62,85]];
const VXDB_HI_C: P[] = [[12.32,0],[12.37,80],[12.41,150],[12.5,130],[12.6,60],[12.8,90],[13,110],[13.1,140],[13.39,155]];
const VXDB_LO_C: P[] = [[12.32,0],[12.5,0],[12.7,5],[12.9,30],[13,50],[13.1,60],[13.39,45]];
const VXD_NOISE_T = [8.26,8.3,8.34,8.38,8.42,10.64,10.7,10.78,10.86,10.95,11.05,11.15,11.25,11.33,11.4,11.55,11.7,11.85,11.95,12.05,12.12,12.25,13.42,13.5,13.6,13.72,13.8,13.88,13.95,14.05,14.15,14.25,14.4,14.55,14.7,14.85,14.95,15.15,15.3,15.4,15.55,15.7,15.8,15.95];
const VXD_NOISE_V = [10,8,12,6,10,22,16,12,8,6,10,14,6,8,14,10,6,12,22,14,8,10,14,8,4,10,20,14,8,14,12,16,14,18,12,16,24,14,12,20,14,18,22,24];
const VXD_FLOOR_SEGS: P[] = [[8.26,8.43],[10.62,12.32],[13.39,16]];
const VXDB_SPIKES: P[] = [[15.01,160],[15.04,180],[15.1,210],[15.6,150]];
const VXDR_SPIKES: P[] = [[15.02,90],[15.05,110],[15.25,230],[15.47,130],[15.48,120]];
const RED_ZERO: P[] = [[8.25,0],[8.43,0]];
const RED_ZERO_2: P[] = [[10.62,0],[12.3,0]];
const RED_ZERO_3: P[] = [[13.39,0],[15,0],[15.95,0]];

/* ---------- VXD BW ---------- */
const VBW_HI_A1 = [400,420,380,410,370,390,350,400,380,360,395,370,390,420,380,340,370,350,380,360,340,400,380];
const VBW_HI_A2 = [300,340,290,360,320,380,340,360,300,340];
const VBW_PRE: P[] = [[8.26,0],[8.36,100],[8.4,300],[8.45,350],[8.5,500],[8.56,650],[8.6,800],[8.63,1100]];
const VBW_RED: P[] = [[8.43,0],[8.45,300],[8.5,600],[8.56,700],[8.6,1000],[8.63,1500],[8.68,1000],[8.72,500],[8.76,100]];
const VBW_RED_BASE: P[] = [[8.43,0],[8.76,0]];
const VBW_PRE_BASE: P[] = [[8.26,0],[8.63,0]];
const VBW_PRE_C_BASE: P[] = [[12.3,0],[12.6,0]];
const VBW_TAIL_BASE: P[] = [[15.88,0],[15.95,0]];
const VBW_HI_B = [1000,900,450,350,400,360,330,380,350,400,370,390,360,420,390,360,400,370,380,430,390,360,410,370,390,380,420,360,390,400,370,410,380,360,390,420,370,400,360,390,410,380,400,370,360,410,380,350,390,370,350];
const VBW_HI_C = [250,300,400,350,420,380,450,400,420,480,450,500,430,520,560,480,540,600,520,560,500];
const VBW_PRE_C: P[] = [[12.3,0],[12.34,100],[12.38,400],[12.42,600],[12.46,580],[12.5,350],[12.55,150],[12.6,250]];
const VBW_SPIKES: P[] = [[8.25,4650],[10.62,4450],[13.39,4750]];
const VBW_TAIL: P[] = [[15.88,0],[15.9,200],[15.92,400],[15.94,100],[15.95,0]];
const VBW_LOW: P[] = [[10.64,100],[10.7,30],[10.9,20],[11.4,10],[12.3,5],[13.42,60],[13.6,20],[14,10],[15.88,5]];
const VBW_LOWER: P[] = [[10.64,0],[15.88,0]];

/* ---------- inj rate HER ---------- */
const INJR_HI_A1 = [0.65,0.6,0.62,0.6,0.55,0.65,0.68,0.6,0.62,0.65,0.6,0.55,0.65,0.62,0.6,0.68,0.7,0.6,0.58,0.6,0.65,0.68,0.6];
const INJR_LO_A1 = [0.2,0.15,0.25,0.2,0.1,0.2,0.25,0.15,0.2,0.1,0.25,0.2,0.15,0.25,0.2,0.3,0.2,0.25,0.3,0.2,0.3,0.35,0.3];
const INJR_D_HI: P[] = [[7.92,1.1],[7.96,0.9],[7.99,0.65],[8.05,0.6],[8.12,0.55],[8.2,0.6],[8.26,0.5]];
const INJR_D_LO: P[] = [[7.92,0.6],[7.96,0.4],[7.99,0.15],[8.05,0.2],[8.12,0.1],[8.2,0.2],[8.26,0.1]];
const INJR_ISLE_HI: P[] = [[8.48,0.8],[8.55,0.75],[8.6,0.65],[8.62,0.65]];
const INJR_ISLE_LO: P[] = [[8.48,0.5],[8.55,0.5],[8.6,0.45],[8.62,0.45]];
const INJR_LOWB_HI: P[] = [[8.26,0.05],[8.35,0.05],[8.42,0.1],[8.48,0.2]];
const INJR_LOWB_LO: P[] = [[8.26,-0.05],[8.48,-0.05]];
const INJR_HI_B = [1.6,1.5,1.45,1.48,1.35,1.3,1.25,1.12,1.08,1.02,0.95,0.82,0.72,0.62,0.58,0.62,0.56,0.6,0.55,0.58,0.52,0.57,0.6,0.55,0.62,0.58,0.65,0.6,0.66,0.62,0.68,0.64,0.72,0.68,0.74,0.7,0.72,0.66,0.68,0.62,0.65,0.58,0.6,0.55,0.62,0.56,0.6,0.52,0.55,0.5,0.52];
const INJR_LO_B = [1.25,1.2,1.15,1.1,0.98,0.95,0.85,0.78,0.72,0.68,0.58,0.48,0.35,0.25,0.12,0.2,0.15,0.22,0.1,0.25,0.2,0.28,0.22,0.18,0.28,0.25,0.3,0.26,0.34,0.28,0.36,0.3,0.38,0.32,0.4,0.32,0.35,0.28,0.3,0.2,0.25,0.15,0.22,0.12,0.24,0.18,0.15,0.1,0.16,0.08,0.15];
const INJR_HI_D = [1.65,1.5,1.42,1.45,1.3,1.32,1.18,1.15,1.05,1.12,0.95,0.88,0.95,0.82,0.78,0.85,0.72,0.75];
const INJR_LO_D = [1.2,1.1,1.0,0.95,0.88,0.82,0.85,0.72,0.75,0.6,0.55,0.62,0.42,0.48,0.3,0.4,0.15,0.1];
const INJR_C0_HI: P[] = [[12.35,0.05],[12.43,0.2],[12.47,0.8],[12.55,0.75],[12.62,0.6],[12.71,0.45]];
const INJR_C0_LO: P[] = [[12.35,-0.05],[12.43,-0.05],[12.47,0.4],[12.55,0.5],[12.62,0.38],[12.71,0.3]];
const INJR_ZERO_SEGS: P[] = [[10.62,12.36],[13.41,16]];
const INJR_S_SPIKE: P[] = [[15.9,0.8],[15.92,0.35]];
const INJR_DOTS: P[] = [[8.64,0.3],[8.66,0.15],[8.86,-0.02],[8.88,-0.04],[10.3,-0.02],[12.8,-0.02],[12.88,-0.03],[12.95,-0.05],[13.05,-0.05],[13.38,0.05],[7.93,-0.05],[7.93,0.1]];

/* ---------- inj efficiency HER ---------- */
const EFFR_HI_A1 = [27,25,28,26,24,27,30,26,27,25,28,26,32,27,25,28,30,26,27,30,28,26,27];
const EFFR_LO_A1 = [10,8,12,9,7,10,6,8,11,5,9,7,10,8,6,9,11,8,10,12,9,10,8];
const EFFR_D_HI: P[] = [[7.92,40],[7.95,45],[7.98,30],[8.03,28],[8.07,24],[8.1,26],[8.14,21],[8.18,22],[8.22,26],[8.26,24]];
const EFFR_D_LO: P[] = [[7.92,20],[7.95,20],[7.98,12],[8.03,10],[8.07,6],[8.1,8],[8.14,10],[8.18,7],[8.22,12],[8.26,6]];
const EFFR_PRE_HI: P[] = [[8.47,62],[8.49,92],[8.55,82],[8.6,80],[8.64,78]];
const EFFR_PRE_LO: P[] = [[8.47,18],[8.49,70],[8.55,66],[8.6,62],[8.64,60]];
const EFFR_HI_B = [78,76,72,70,66,64,60,54,48,44,40,38,32,30,27,25,29,24,26,28,25,27,24,29,26,28,25,29,27,31,28,30,34,31,36,30,33,29,28,30,26,28,25,27,24,26,22,25,21,24,26];
const EFFR_LO_B = [60,58,56,52,50,46,42,36,30,26,24,20,14,12,7,9,6,10,8,7,9,11,8,10,13,9,12,10,14,12,15,13,18,14,16,13,15,11,10,12,8,11,9,7,10,6,8,5,7,9,11];
const EFFR_C_HI: P[] = [[12.38,5],[12.44,22],[12.46,30],[12.47,88],[12.55,85],[12.65,74],[12.72,75]];
const EFFR_C_LO: P[] = [[12.38,0],[12.44,2],[12.46,5],[12.47,65],[12.55,62],[12.65,50],[12.72,52]];
const EFFR_HI_D = [75,72,66,68,60,58,54,57,50,46,48,42,40,44,38,36,38,32];
const EFFR_LO_D = [52,46,44,38,40,36,34,30,32,26,22,25,18,14,16,10,12,8];
const EFFR_ZERO_SEGS: P[] = [[7,8.28],[8.33,8.4],[8.64,12.36],[12.72,16]];
const EFFR_S_HI: P[] = [[15.89,60],[15.91,96],[15.92,40]];
const EFFR_S_LO: P[] = [[15.89,18],[15.91,20],[15.92,16]];

/* ---------- photon rate ---------- */
const SR_FW: P[] = [[7, 0], [16, 0]];

/* ---------- small geometry / style constants ---------- */
const FONT = "'DejaVu Sans Mono', monospace";
const COL = { lum: "#eda900", ler: "#ff0000", her: "#0000ff", repL: "#ff1493", repH: "#1e90ff", qb: "#4169e1", qg: "#00cc00", inj: "#a020f0", eff: "#00b0f0", ecl: "#068a46", bg: "#ff6347", top: "#4a7cff", cdc: "#00cc00", cdcav: "#008000", dia: "#ee82ee", grid: "#8c8c8c", or: "#ffa500" };

type S =
  | { k: "line"; p: P[]; c: string; w?: number; step?: boolean }
  | { k: "band"; hi: P[]; lo: P[]; c: string; clip?: P[] }
  | { k: "dots"; p: P[]; c: string; s?: number }
  | { k: "segs"; p: P[]; v: number; c: string; w?: number }
  | { k: "spikes"; p: P[]; c: string; w?: number; base?: number };

const flat = (t: number[], v: number): P[] => [[t[0], v], [t[t.length - 1], v]];
const band = (hi: P[], lo: P[], c: string, clip?: P[]): S => ({ k: "band", hi, lo, c, clip });
const line = (p: P[], c: string, w = 1.5, step = false): S => ({ k: "line", p, c, w, step });

type Geo = { id: string; x0: number; x1: number; solidRight: boolean };
const GEO_L: Geo = { id: "L", x0: 101.6, x1: 735, solidRight: true };
const GEO_R: Geo = { id: "R", x0: 1002.8, x1: 1636, solidRight: false };

let clipSeq = 0;

function drawSeries(list: S[], x: d3.ScaleLinear<number, number>, y: d3.ScaleLinear<number, number>) {
  const mk = (step?: boolean) =>
    d3.line<P>().x((d) => x(d[0])).y((d) => y(d[1])).curve(step ? d3.curveStepAfter : d3.curveLinear);
  return list.map((s, i) => {
    if (s.k === "line") return <path key={i} d={mk(s.step)(s.p) || ""} fill="none" stroke={s.c} strokeWidth={s.w ?? 1.5} />;
    if (s.k === "band") {
      const up = mk()(s.hi) || "";
      const dn = mk()([...s.lo].reverse()) || "";
      const d = up + "L" + dn.slice(1) + "Z";
      if (!s.clip) return <path key={i} d={d} fill={s.c} stroke={s.c} strokeWidth={0.6} />;
      const id = "iv" + clipSeq++;
      const [r0, r1] = y.range();
      return (
        <g key={i}>
          <clipPath id={id}>
            {s.clip.map((iv, j) => (
              <rect key={j} x={x(iv[0])} width={Math.max(1, x(iv[1]) - x(iv[0]))} y={r1 - 2} height={r0 - r1 + 4} />
            ))}
          </clipPath>
          <path d={d} fill={s.c} clipPath={`url(#${id})`} />
        </g>
      );
    }
    if (s.k === "dots")
      return (
        <g key={i} fill={s.c}>
          {s.p.map((d, j) => {
            const a = s.s ?? 2.2;
            return <rect key={j} x={x(d[0]) - a / 2} y={y(d[1]) - a / 2} width={a} height={a} />;
          })}
        </g>
      );
    if (s.k === "segs")
      return (
        <g key={i} stroke={s.c} strokeWidth={s.w ?? 2.5}>
          {s.p.map((d, j) => (
            <line key={j} x1={x(d[0])} x2={x(d[1])} y1={y(s.v)} y2={y(s.v)} />
          ))}
        </g>
      );
    const b = s.base === undefined ? y.range()[0] : y(s.base);
    return (
      <g key={i} stroke={s.c} strokeWidth={s.w ?? 1}>
        {s.p.map((d, j) => (
          <line key={j} x1={x(d[0])} x2={x(d[0])} y1={b} y2={y(d[1])} />
        ))}
      </g>
    );
  });
}

type PanelCfg = { top: number; bottom: number; min: number; max: number; major: number; minor: number; dotted?: boolean; frameTop?: boolean; series: S[] };

function Panel({ g, c }: { g: Geo; c: PanelCfg }) {
  const x = d3.scaleLinear().domain([7, 16]).range([g.x0, g.x1]);
  const y = d3.scaleLinear().domain([c.min, c.max]).range([c.bottom, c.top]);
  const eps = 1e-6;
  const majors = d3.range(Math.ceil(c.min / c.major - eps), Math.floor(c.max / c.major + eps) + 1).map((k) => k * c.major);
  const minors = d3.range(Math.ceil(c.min / c.minor - eps), Math.floor(c.max / c.minor + eps) + 1).map((k) => k * c.minor);
  const thirds = d3.range(0, 28).map((i) => 7 + i / 3);
  const cid = "pc" + clipSeq++;
  const fmt = (v: number) => String(Math.round(v * 1000) / 1000);
  return (
    <g>
      <clipPath id={cid}>
        <rect x={g.x0} y={c.top} width={g.x1 - g.x0 + 2} height={c.bottom - c.top + 1.5} />
      </clipPath>
      {HOURS.slice(1).map((h) => (
        <line key={h} x1={x(h)} x2={x(h)} y1={c.top} y2={c.bottom} stroke={COL.grid} strokeWidth={0.9} strokeDasharray="3 3" />
      ))}
      {majors.map((v) => (
        <line key={v} x1={g.x0} x2={g.x1} y1={y(v)} y2={y(v)} stroke={COL.grid} strokeWidth={1} strokeDasharray="3 3" />
      ))}
      <g clipPath={`url(#${cid})`}>{drawSeries(c.series, x, y)}</g>
      {minors.map((v) => (
        <line key={v} x1={g.x0} x2={g.x0 + 8} y1={y(v)} y2={y(v)} stroke="#000" strokeWidth={1.1} />
      ))}
      {majors.map((v) => (
        <line key={v} x1={g.x0} x2={g.x0 + 14} y1={y(v)} y2={y(v)} stroke="#000" strokeWidth={1.4} />
      ))}
      {thirds.map((t, i) => (
        <line key={i} x1={x(t)} x2={x(t)} y1={c.bottom} y2={c.bottom - (i % 3 === 0 ? 7 : 3.5)} stroke="#000" strokeWidth={i % 3 === 0 ? 1.4 : 1.1} />
      ))}
      <line x1={g.x0} x2={g.x0} y1={c.top} y2={c.bottom} stroke="#000" strokeWidth={1.5} />
      <line x1={g.x1} x2={g.x1} y1={c.top} y2={c.bottom} stroke={g.solidRight ? "#000" : "#555"} strokeWidth={g.solidRight ? 1.5 : 1} strokeDasharray={g.solidRight ? undefined : "3 2"} />
      {c.frameTop && <line x1={g.x0} x2={g.x1} y1={c.top} y2={c.top} stroke="#000" strokeWidth={1.5} />}
      <line x1={g.x0} x2={g.x1} y1={c.bottom} y2={c.bottom} stroke="#000" strokeWidth={1.5} strokeDasharray={c.dotted ? "2 2" : undefined} />
      {majors.map((v) => (
        <text key={v} x={g.x0 - 2.5} y={y(v)} dy="0.36em" textAnchor="end" fontFamily={FONT} fontSize={13.3} fill="#000">
          {fmt(v)}
        </text>
      ))}
    </g>
  );
}

function YLab({ x, y, t, bold, size = 11.5 }: { x: number; y: number; t: string; bold?: boolean; size?: number }) {
  return (
    <text transform={`translate(${x},${y}) rotate(-90)`} textAnchor="middle" dominantBaseline="central" fontFamily={FONT} fontSize={size} fontWeight={bold ? 700 : 400} fill="#000">
      {t}
    </text>
  );
}

function Expo({ x, y, e }: { x: number; y: number; e: string }) {
  return (
    <text x={x} y={y} fontFamily={FONT} fontSize={13} fill="#000">
      x10<tspan dy={-6.5} fontSize={13}>{e}</tspan>
    </text>
  );
}

function Tick({ x, y, n, u }: { x: number; y: number; n: string; u: string }) {
  return (
    <g fontFamily={FONT} fill="#000">
      <text x={x} y={y} textAnchor="end" fontSize={20}>{n}</text>
      <text x={x + 1} y={y - 10} fontSize={13.5}>{u}</text>
    </g>
  );
}

type LegRow = { t: string; c?: string; dot?: boolean; y: number };
function Legend({ x0, x1, y0, y1, lineX, lineW = 40.5, textX, rows, size = 14.6 }: { x0: number; x1: number; y0: number; y1: number; lineX: number; lineW?: number; textX: number; rows: LegRow[]; size?: number }) {
  return (
    <g>
      <path d={`M${x0 + 2},${y1 + 1}H${x1 + 1}V${y0 + 2}`} fill="none" stroke="#333" strokeWidth={2} />
      <rect x={x0} y={y0} width={x1 - x0} height={y1 - y0} fill="none" stroke="#000" strokeWidth={1} />
      {rows.map((r, i) => (
        <g key={i}>
          {r.c && !r.dot && <line x1={lineX} x2={lineX + lineW} y1={r.y} y2={r.y} stroke={r.c} strokeWidth={1.2} />}
          {r.c && r.dot && <circle cx={lineX} cy={r.y} r={2.6} fill={r.c} />}
          <text x={textX} y={r.y} dy="0.36em" fontFamily={FONT} fontSize={size} fill="#000">{r.t}</text>
        </g>
      ))}
    </g>
  );
}

/* ---------- shared panels' series ---------- */
const topSeries: S[] = [
  band(zip(T_A1, TOP_HI_A1), zip(T_A1, TOP_LO_A1), COL.top),
  band(TOP_DIP_HI, TOP_DIP_LO, COL.top),
  band(flat(T_A2, 4), zip(T_A2, TOP_LO_A2), COL.top),
  line(TOP_LINE, COL.top),
  band(zip(T_B, TOP_HI_B), zip(T_B, TOP_LO_B), COL.top),
  line(TOP_END, COL.top),
  band(zip(T_C, TOP_HI_C), zip(T_C, TOP_LO_C), COL.top),
  line(TOP_TAIL, COL.top),
];
const cdcSeries: S[] = [
  band(zip(T_A1, CDC_HI_A1), CDC_MID_A1, COL.cdc),
  band(CDC_MID_A1, CDC_LOW_A1, COL.cdc, CDC_COMB_SOLID),
  line(CDC_DIP, COL.cdc),
  band(zip(T_A2, CDC_HI_A2), CDC_MID_A2, COL.cdc),
  band(CDC_MID_A2, CDC_LOW_A2, COL.cdc, CDC_COMB_SOLID),
  band(zip(T_B, CDC_HI_B), CDC_MID_B, COL.cdc),
  band(CDC_MID_B, CDC_LOW_B, COL.cdc, CDC_COMB_SOLID),
  band(zip(T_C, CDC_HI_C), CDC_MID_C, COL.cdc),
  band(CDC_MID_C, CDC_LOW_C, COL.cdc, CDC_COMB_SOLID),
  band(zip(T_A1, CDCAV_HI_A1), zip(T_A1, CDCAV_LO_A1), COL.cdcav),
  band(CDCAV_DIP_HI, CDCAV_DIP_LO, COL.cdcav),
  band(zip(T_A2, CDCAV_HI_A2), zip(T_A2, CDCAV_LO_A2), COL.cdcav),
  band(zip(T_B, CDCAV_HI_B), zip(T_B, CDCAV_LO_B), COL.cdcav),
  band(zip(T_C, CDCAV_HI_C), zip(T_C, CDCAV_LO_C), COL.cdcav),
  line(CDC_LINE, COL.cdcav, 1.8),
  line(CDC_ZERO, COL.cdcav, 1.8),
  line(CDC_ZERO_2, COL.cdcav, 1.8),
];
const diaCore: S[] = [
  band(zip(T_A1, DIA_HI_A1), DIA_LO_A1, COL.dia),
  band(DIA_DIP_HI, DIA_DIP_LO, COL.dia),
  band(zip(T_A2, DIA_HI_A2), zip(T_A2, DIA_LO_A2), COL.dia),
  band(DIA_PRE_HI, DIA_PRE_LO, COL.dia),
  band(zip(T_B, DIA_HI_B), DIA_LO_B, COL.dia),
  band(DIA_PRE_C_HI, DIA_PRE_C_LO, COL.dia),
  band(zip(T_C, DIA_HI_C), DIA_LO_C, COL.dia),
  { k: "spikes", p: DIA_PEAKS, c: COL.dia, w: 1.3, base: DIA_PEAK_BASE },
  { k: "spikes", p: DIA_SPIKES, c: COL.dia },
];
const injLSeries: S[] = [
  { k: "segs", p: INJL_ZERO_SEGS, v: -0.1, c: COL.inj, w: 3 },
  band(zip(T_A1, INJL_HI_A1), zip(T_A1, INJL_LO_A1), COL.inj),
  band(INJL_SPIKE_HI, INJL_SPIKE_LO, COL.inj),
  band(INJL_PRE_HI, INJL_PRE_LO, COL.inj),
  band(zip(T_B, INJL_HI_B), zip(T_B, INJL_LO_B), COL.inj),
  band(INJL_LOWA_HI, INJL_LOWA_LO, COL.inj),
  band(INJL_ISLAND_HI, INJL_ISLAND_LO, COL.inj),
  band(INJL_C1_HI, INJL_C1_LO, COL.inj),
  band(INJL_C2_HI, INJL_C2_LO, COL.inj),
  band(INJL_C3_HI, INJL_C3_LO, COL.inj),
  band(INJL_C4_HI, INJL_C4_LO, COL.inj),
  band(INJL_C5_HI, INJL_C5_LO, COL.inj),
  { k: "dots", p: INJL_DOTS, c: COL.inj },
];
const effLSeries: S[] = [
  { k: "segs", p: EFFL_ZERO_SEGS, v: 0, c: COL.eff, w: 3 },
  band(zip(T_A1, EFFL_HI_A1), zip(T_A1, EFFL_LO_A1), COL.eff),
  band(EFFL_SPIKE_HI, EFFL_SPIKE_LO, COL.eff),
  band(EFFL_PRE_HI, EFFL_PRE_LO, COL.eff),
  band(zip(T_B, EFFL_HI_B), zip(T_B, EFFL_LO_B), COL.eff),
  band(EFFL_C1_HI, EFFL_C1_LO, COL.eff),
  band(EFFL_C2_HI, EFFL_C2_LO, COL.eff),
  band(EFFL_C3_HI, EFFL_C3_LO, COL.eff),
  band(EFFL_C4_HI, EFFL_C4_LO, COL.eff),
  { k: "dots", p: EFFL_DOTS, c: COL.eff },
];
const injRSeries: S[] = [
  { k: "segs", p: INJR_ZERO_SEGS, v: -0.06, c: COL.inj, w: 3 },
  band(zip(T_A1, INJR_HI_A1), zip(T_A1, INJR_LO_A1), COL.inj),
  band(INJR_D_HI, INJR_D_LO, COL.inj),
  band(INJR_ISLE_HI, INJR_ISLE_LO, COL.inj),
  band(INJR_LOWB_HI, INJR_LOWB_LO, COL.inj),
  band(zip(T_B, INJR_HI_B), zip(T_B, INJR_LO_B), COL.inj),
  band(INJR_C0_HI, INJR_C0_LO, COL.inj),
  band(zip(T_D, INJR_HI_D), zip(T_D, INJR_LO_D), COL.inj),
  line(INJR_S_SPIKE, COL.inj, 2),
  { k: "dots", p: INJR_DOTS, c: COL.inj, s: 2 },
];
const effRSeries: S[] = [
  { k: "segs", p: EFFR_ZERO_SEGS, v: 0, c: COL.eff, w: 3 },
  band(zip(T_A1, EFFR_HI_A1), zip(T_A1, EFFR_LO_A1), COL.eff),
  band(EFFR_D_HI, EFFR_D_LO, COL.eff),
  band(EFFR_PRE_HI, EFFR_PRE_LO, COL.eff),
  band(zip(T_B, EFFR_HI_B), zip(T_B, EFFR_LO_B), COL.eff),
  band(EFFR_C_HI, EFFR_C_LO, COL.eff),
  band(zip(T_D, EFFR_HI_D), zip(T_D, EFFR_LO_D), COL.eff),
  band(EFFR_S_HI, EFFR_S_LO, COL.eff),
];
const noise = zip(VXD_NOISE_T, VXD_NOISE_V);

const LEFT: PanelCfg[] = [
  { top: 176.3, bottom: 232.7, min: 0, max: 46300, major: 10000, minor: 2000, dotted: true, frameTop: true, series: [line(LUM, COL.lum, 1.7)] },
  { top: 232.7, bottom: 289.3, min: 0, max: 1690, major: 500, minor: 100, dotted: true, series: [line(I_LER, COL.ler), line(I_HER, COL.her)] },
  { top: 289.3, bottom: 345, min: 0, max: 13.5, major: 5, minor: 1, series: [line(REP_LER, COL.repL, 1.4, true)] },
  { top: 345, bottom: 400.7, min: -0.15, max: 3.25, major: 1, minor: 0.2, series: [
    band(Q11_BLUE_HI, Q11_BLUE_LO, COL.qb), band(Q11_BLUE_C_HI, Q11_BLUE_C_LO, COL.qb), line(Q11_BLUE_TAIL, COL.qb, 2.5),
    { k: "dots", p: Q11_BLUE_DOTS, c: COL.qb, s: 2 },
    band(Q11_GREEN_HI, Q11_GREEN_LO, COL.qg), band(Q11_GREEN_C_HI, Q11_GREEN_C_LO, COL.qg), line(Q11_GREEN_TAIL, COL.qg, 2.5), line(Q11_GREEN_TAIL_2, COL.qg, 3),
    { k: "dots", p: Q11_GREEN_DOTS, c: COL.qg, s: 2 },
    { k: "segs", p: Q11_LOW_SEGS, v: 0.02, c: COL.qg, w: 3 },
  ] },
  { top: 400.7, bottom: 456.7, min: -0.2, max: 6.55, major: 2, minor: 0.4, series: injLSeries },
  { top: 456.7, bottom: 517.3, min: -6.3, max: 110, major: 20, minor: 4, series: effLSeries },
  { top: 517.3, bottom: 597.3, min: 0, max: 15000, major: 5000, minor: 1000, series: [
    band(zip(T_A1, ECLBW_HI_A1), zip(T_A1, ECLBW_LO_A1), COL.ecl), line(ECLBW_DIP, COL.ecl, 1.2),
    band(zip(T_A2, ECLBW_HI_A2), zip(T_A2, ECLBW_LO_A2), COL.ecl), band(ECLBW_PRE_HI, ECLBW_PRE_LO, COL.ecl),
    band(zip(T_B, ECLBW_HI_B), zip(T_B, ECLBW_LO_B), COL.ecl), band(zip(T_C, ECLBW_HI_C), zip(T_C, ECLBW_LO_C), COL.ecl),
    { k: "spikes", p: ECLBW_PEAKS_UP, c: COL.ecl, w: 1.3, base: 8000 },
    line(ECLBW_PRE_C, COL.ecl, 1.6), line(ECLBW_LINE, COL.ecl, 1.2), line(ECLBW_TAIL, COL.ecl, 1.2),
  ] },
  { top: 597.3, bottom: 677.3, min: 0, max: 30, major: 5, minor: 1, series: [line(BG_BW, COL.bg, 1.2, true)] },
  { top: 677.3, bottom: 758.3, min: 0, max: 4, major: 1, minor: 0.2, series: topSeries },
  { top: 758.3, bottom: 838.3, min: 0, max: 300, major: 50, minor: 10, series: cdcSeries },
  { top: 838.3, bottom: 918.3, min: 0, max: 50, major: 10, minor: 2, series: [...diaCore, line(DIA_END, COL.dia, 2), line(DIA_END_2, COL.dia, 2)] },
  { top: 918.3, bottom: 999.3, min: 0, max: 565, major: 100, minor: 20, dotted: true, series: [
    band(VXDB_HI_A1, zip(T_A1, VXDB_LO_A1), COL.her),
    band(VXDB_DIP_HI, VXDB_DIP_LO, COL.her), band(VXDB_HI_A2, zip(T_A2, VXDB_LO_A2), COL.her),
    band(VXDB_HI_B, VXDB_LO_B, COL.her), band(VXDB_HI_C, VXDB_LO_C, COL.her),
    { k: "segs", p: VXD_FLOOR_SEGS, v: 6, c: COL.her, w: 2.4 },
    { k: "spikes", p: noise, c: COL.her, w: 2.5 }, { k: "spikes", p: VXDB_SPIKES, c: COL.her, w: 1.2 },
    band(zip(T_A1, VXDR_HI_A1), VXDR_LO_A1, COL.ler), band(VXDR_DIP_HI, VXDR_DIP_LO, COL.ler),
    band(zip(T_A2, VXDR_HI_A2), VXDR_LO_A2, COL.ler), band(VXDR_PRE_HI, VXDR_PRE_LO, COL.ler),
    band(zip(T_B, VXDR_HI_B), VXDR_LO_B, COL.ler), band(zip(T_C, VXDR_HI_C), VXDR_LO_C, COL.ler), band(VXDR_PRE_C_HI, VXDR_PRE_C_LO, COL.ler),
    { k: "spikes", p: VXDR_PEAKS, c: COL.ler, w: 1.3, base: VXDR_PEAK_BASE },
    { k: "spikes", p: VXDR_SPIKES, c: COL.ler, w: 1.2 }, line(RED_ZERO, COL.ler), line(RED_ZERO_2, COL.ler), line(RED_ZERO_3, COL.ler),
  ] },
];

const RIGHT: PanelCfg[] = [
  { top: 53.3, bottom: 112.3, min: 0, max: 46000, major: 10000, minor: 2000, dotted: true, frameTop: true, series: [line(LUM, COL.lum, 1.7)] },
  { top: 112.3, bottom: 172.3, min: 0, max: 1730, major: 500, minor: 100, dotted: true, series: [line(I_LER, COL.ler), line(I_HER, COL.her)] },
  { top: 172.3, bottom: 231.3, min: 0, max: 13.6, major: 5, minor: 1, dotted: true, series: [line(REP_HER, COL.repH, 1.4, true)] },
  { top: 231.3, bottom: 291, min: -0.115, max: 2.2, major: 0.5, minor: 0.1, series: [
    line(Q8_BLUE_LINE, COL.qb, 1), band(Q8_BLUE_HI, Q8_BLUE_LO, COL.qb), band(Q8_BLUE_HI_2, Q8_BLUE_LO_2, COL.qb), band(Q8_BLUE_HI_3, Q8_BLUE_LO_3, COL.qb), band(Q8_BLUE_HI_4, Q8_BLUE_LO_4, COL.qb),
    line(Q8_GREEN, COL.qg, 3), { k: "dots", p: Q8_ZERO_DOTS, c: COL.qb, s: 1.8 },
  ] },
  { top: 291, bottom: 350.3, min: -0.1, max: 1.88, major: 0.5, minor: 0.1, series: injRSeries },
  { top: 350.3, bottom: 414.3, min: -7.5, max: 112, major: 20, minor: 4, series: effRSeries },
  { top: 414.3, bottom: 499.3, min: 0, max: 5000, major: 1000, minor: 200, series: [
    band(flat(T_A1, 5000), zip(T_A1, ECLFW_LO_A1), COL.ecl, ECLFW_SOLID),
    band(flat(T_A2, 5000), zip(T_A2, ECLFW_LO_A2), COL.ecl, ECLFW_SOLID),
    band(flat(T_B, 5000), zip(T_B, ECLFW_LO_B), COL.ecl, ECLFW_SOLID),
    band(flat(T_C, 5000), zip(T_C, ECLFW_LO_C), COL.ecl, ECLFW_SOLID),
    band(ECLFW_TOP_A, ECLFW_TOP_B, COL.ecl, ECLFW_SOLID),
    band(ECLFW_RISE_HI, ECLFW_RISE_LO, COL.ecl), band(ECLFW_C_HI, ECLFW_C_LO, COL.ecl),
    line(ECLFW_DIP, COL.ecl, 1.2), line(ECLFW_TAIL, COL.ecl, 1.2), line(ECLFW_END, COL.ecl, 1.2),
  ] },
  { top: 499.3, bottom: 584, min: 0, max: 20, major: 5, minor: 1, series: [line(BG_FW, COL.bg, 1.2, true)] },
  { top: 584, bottom: 669, min: 0, max: 5, major: 1, minor: 0.2, series: [line(SR_FW, COL.or, 2.5)] },
  { top: 669, bottom: 753.6, min: 0, max: 4, major: 1, minor: 0.2, series: topSeries },
  { top: 753.6, bottom: 839, min: 0, max: 300, major: 50, minor: 10, series: cdcSeries },
  { top: 839, bottom: 924.5, min: -1.2, max: 50, major: 10, minor: 2, series: [...diaCore, line(DIA_END_R, COL.dia, 2), line(DIA_END_R2, COL.dia, 2)] },
  { top: 924.5, bottom: 1009, min: 0, max: 5000, major: 1000, minor: 200, series: [
    band(zip(T_A1, VBW_HI_A1), flat(T_A1, 0), COL.her), band(zip(T_A2, VBW_HI_A2), flat(T_A2, 0), COL.her),
    band(VBW_RED, VBW_RED_BASE, COL.ler),
    band(VBW_PRE, VBW_PRE_BASE, COL.her),
    band(zip(T_B, VBW_HI_B), flat(T_B, 0), COL.her), band(VBW_PRE_C, VBW_PRE_C_BASE, COL.her), band(zip(T_C, VBW_HI_C), flat(T_C, 0), COL.her),
    band(VBW_LOW, VBW_LOWER, COL.her), band(VBW_TAIL, VBW_TAIL_BASE, COL.her),
    { k: "spikes", p: VBW_SPIKES, c: COL.her, w: 1.2 },
  ] },
];

const ticksL: [string, string, number][] = [["8", "h", 8], ["9", "h", 9], ["10", "h", 10], ["11", "h", 11], ["12", "h", 12], ["13", "h", 13], ["14", "h", 14], ["15", "h", 15]];
const ticksR: [string, string, number][] = [["9", "h", 9], ["10", "h", 10], ["11", "h", 11], ["12", "h", 12], ["13", "h", 13], ["14", "h", 14], ["15", "h", 15], ["16", "h", 16]];

export default function App() {
  clipSeq = 0;
  const xL = d3.scaleLinear().domain([7, 16]).range([GEO_L.x0, GEO_L.x1]);
  const xR = d3.scaleLinear().domain([7, 16]).range([GEO_R.x0, GEO_R.x1]);
  return (
    <svg width={1806} height={1062} viewBox="0 0 1806 1062" style={{ position: "fixed", left: 0, top: 0, background: "#fff" }}>
      <rect x={0} y={0} width={1.6} height={1062} fill="#a8a8a8" />
      <rect x={0} y={0} width={903} height={1.2} fill="#b8b8b8" />
      <rect x={902} y={0} width={2.6} height={1062} fill="#e6e6e6" />

      {LEFT.map((c, i) => <Panel key={i} g={GEO_L} c={c} />)}
      {RIGHT.map((c, i) => <Panel key={i} g={GEO_R} c={c} />)}

      {/* left axis titles */}
      <YLab x={52} y={203} t="Luminosity" />
      <YLab x={59} y={260} t="I[mA]" />
      <YLab x={60} y={317} t="Rep." size={11} />
      <YLab x={75} y={317} t="Rate[Hz]" size={11} />
      <YLab x={83} y={372.7} t="Q[nC]" />
      <YLab x={83} y={428} t="[mA/s]" />
      <YLab x={67} y={484} t="[%]" />
      <YLab x={44} y={556.7} t="ECL_BW" bold size={13} />
      <YLab x={72} y={636.7} t="[ms]" bold size={12.5} />
      <YLab x={81.5} y={717} t="[Hz]" />
      <YLab x={62} y={797} t="[uA]" bold size={12.5} />
      <YLab x={70} y={877.7} t="[mRad/s]" bold size={12.5} />
      <YLab x={66} y={957} t="VXD" bold size={12.5} />
      <Expo x={37} y={696} e="6" />

      {/* right axis titles */}
      <YLab x={952} y={81.7} t="Luminosity" />
      <YLab x={960.7} y={141.7} t="I[mA]" />
      <YLab x={961.8} y={202.7} t="Rep." size={11} />
      <YLab x={976.3} y={202.7} t="Rate[Hz]" size={11} />
      <YLab x={968.8} y={260} t="Q[nC]" />
      <YLab x={968.8} y={320} t="[mA/s]" />
      <YLab x={968.8} y={379} t="[%]" />
      <YLab x={954.9} y={456.7} t="ECL_FW" bold size={13} />
      <YLab x={973.4} y={541} t="[ms]" bold size={12.5} />
      <YLab x={971.6} y={626.4} t="Photon" />
      <YLab x={986} y={626.4} t="Rate" />
      <YLab x={983} y={711} t="[Hz]" />
      <YLab x={963.6} y={796} t="[uA]" bold size={12.5} />
      <YLab x={972} y={880} t="[mRad/s]" bold size={12.5} />
      <YLab x={959} y={964.7} t="VXD" bold size={12.5} />
      <Expo x={939} y={603.5} e="5" />
      <Expo x={939} y={688} e="6" />

      {/* time labels, left */}
      <Tick x={98} y={1027} n="7" u="h" />
      <Tick x={120} y={1027} n="0" u="m" />
      <Tick x={142} y={1027} n="0" u="s" />
      {ticksL.map(([n, u, h]) => <Tick key={h} x={xL(h) + 1} y={1027} n={n} u={u} />)}
      <text x={50} y={1050} fontFamily={FONT} fontSize={19.7} fill="#000">3/2/2026</text>

      {/* time labels, right */}
      <Tick x={xR(8) + 1} y={1035} n="8" u="h" />
      <Tick x={xR(8) + 23} y={1035} n="0" u="m" />
      <Tick x={xR(8) + 45} y={1035} n="0" u="s" />
      {ticksR.map(([n, u, h]) => <Tick key={h} x={xR(h) + 1} y={1035} n={n} u={u} />)}
      <text x={1021} y={1060} fontFamily={FONT} fontSize={19.7} fill="#000">3/2/2026</text>

      {/* left legends */}
      <Legend x0={795.3} x1={880.7} y0={248} y1={294} lineX={802} textX={847.7} rows={[{ t: "LER", c: COL.ler, y: 262 }, { t: "HER", c: COL.her, y: 280 }]} />
      <Legend x0={780} x1={880.7} y0={300} y1={339} lineX={787} textX={833} size={22.5} rows={[{ t: "LER", c: COL.repL, y: 319 }]} />
      <Legend x0={733} x1={880.7} y0={361} y1={407} lineX={741.7} textX={766} rows={[{ t: "QMD11P_1(nC)", c: COL.qb, dot: true, y: 375 }, { t: "QMD11P_2(nC)", c: COL.qg, dot: true, y: 393 }]} />
      <Legend x0={769} x1={880.7} y0={417} y1={446} lineX={777} textX={802.7} rows={[{ t: "Inj.Rate", c: COL.inj, dot: true, y: 431 }]} />
      <Legend x0={724} x1={880.7} y0={473} y1={537.7} lineX={732} textX={757.7} rows={[{ t: "Inj.Eff(BCM1)", c: "#000", dot: true, y: 487 }, { t: "Inj.Eff(BCM2)", c: "#808080", dot: true, y: 505 }, { t: "Inj.Eff", y: 522.7 }]} />
      <Legend x0={768} x1={880.7} y0={533} y1={561.7} lineX={775} textX={820.7} rows={[{ t: "ECL_BW", c: COL.ecl, y: 547 }]} />
      <Legend x0={750} x1={880.7} y0={604} y1={650.7} lineX={757.7} textX={802.5} rows={[{ t: "ECL BG", c: COL.bg, y: 618 }, { t: "Duration", y: 636 }]} />
      <Legend x0={750} x1={880.7} y0={693} y1={722} lineX={757.7} textX={802.5} rows={[{ t: "TOP [Hz]", c: COL.top, y: 707 }]} />
      <Legend x0={768.7} x1={880.7} y0={774} y1={820} lineX={775} textX={820.7} rows={[{ t: "CDC", c: COL.cdc, y: 788 }, { t: "CDC_av", c: COL.cdcav, y: 806 }]} />
      <Legend x0={759.5} x1={880.7} y0={854} y1={883} lineX={766} textX={811} rows={[{ t: "Diamond", c: COL.dia, y: 868 }]} />
      <Legend x0={741.7} x1={880.7} y0={934} y1={980.7} lineX={748} textX={793} rows={[{ t: "VXD_FW225", c: COL.her, y: 948 }, { t: "VXD_FW135", c: COL.ler, y: 966 }]} />

      {/* right legends */}
      <Legend x0={1697.4} x1={1782} y0={128} y1={174.7} lineX={1703.7} textX={1748.8} rows={[{ t: "LER", c: COL.ler, y: 142 }, { t: "HER", c: COL.her, y: 160 }]} />
      <Legend x0={1682.3} x1={1782} y0={183} y1={222.7} lineX={1689} textX={1733.8} size={22.5} rows={[{ t: "HER", c: COL.repH, y: 202 }]} />
      <Legend x0={1644.2} x1={1782} y0={247} y1={293.7} lineX={1652.3} textX={1677} rows={[{ t: "QMD8E_1(nC)", c: COL.qb, dot: true, y: 261 }, { t: "QMD8E_2(nC)", c: COL.qg, dot: true, y: 279 }]} />
      <Legend x0={1671.4} x1={1782} y0={307} y1={335.7} lineX={1679.4} textX={1704.3} rows={[{ t: "Inj.Rate", c: COL.inj, dot: true, y: 321 }]} />
      <Legend x0={1626.3} x1={1782} y0={366} y1={430} lineX={1634.4} textX={1659.2} rows={[{ t: "Inj.Eff(BCM1)", c: "#000", dot: true, y: 380 }, { t: "Inj.Eff(BCM2)", c: "#808080", dot: true, y: 398 }, { t: "Inj.Eff", y: 416 }]} />
      <Legend x0={1670.8} x1={1782} y0={426} y1={458.7} lineX={1677} textX={1722.2} rows={[{ t: "ECL_FW", c: COL.ecl, y: 444 }]} />
      <Legend x0={1652.3} x1={1782} y0={506.7} y1={553} lineX={1659} textX={1703.7} rows={[{ t: "ECL BG", c: COL.bg, y: 520 }, { t: "Duration", y: 538 }]} />
      <Legend x0={1679.4} x1={1782} y0={600} y1={646.4} lineX={1685.8} textX={1730.9} rows={[{ t: "SR_FW", c: COL.or, y: 614.2 }, { t: "SR_BW", c: COL.ler, y: 632.2 }]} />
      <Legend x0={1652.3} x1={1782} y0={685} y1={713.4} lineX={1659} textX={1703.7} rows={[{ t: "TOP [Hz]", c: COL.top, y: 699 }]} />
      <Legend x0={1670.2} x1={1782} y0={769.5} y1={816.2} lineX={1677} textX={1722.2} rows={[{ t: "CDC", c: COL.cdc, y: 783.7 }, { t: "CDC_av", c: COL.cdcav, y: 801.6 }]} />
      <Legend x0={1661.5} x1={1782} y0={855.4} y1={883.9} lineX={1668} textX={1713.5} rows={[{ t: "Diamond", c: COL.dia, y: 869.3 }]} />
      <Legend x0={1643.6} x1={1782} y0={940} y1={986.7} lineX={1650} textX={1695} rows={[{ t: "VXD_BW180", c: COL.ler, y: 954.2 }, { t: "VXD_BW270", c: COL.her, y: 972 }]} />
    </svg>
  );
}
